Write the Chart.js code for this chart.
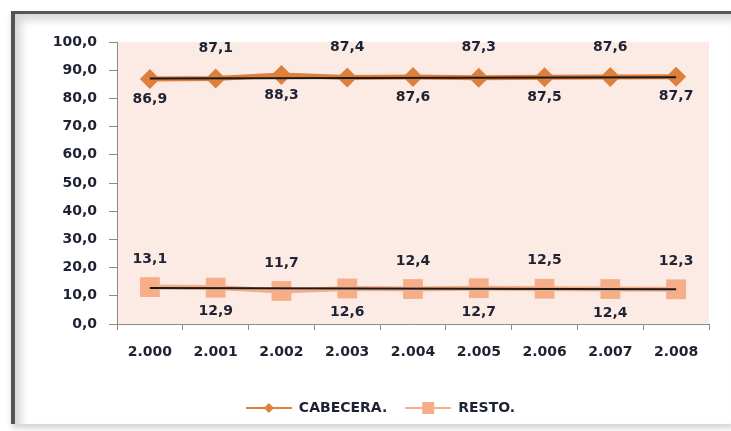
<!DOCTYPE html>
<html>
<head>
<meta charset="utf-8">
<script src="https://cdn.jsdelivr.net/npm/chart.js@4"></script>
<style>
  html, body { margin: 0; padding: 0; background: #fff; overflow: hidden; }
  body { width: 731px; height: 431px; position: relative; }
  .frame {
    position: absolute; left: 11px; top: 11px; width: 717px; height: 410px;
    border-left: 4px solid #555; border-top: 3px solid #555;
    box-shadow: inset 6px 6px 9px rgba(0,0,0,0.16), 1px 4px 6px rgba(0,0,0,0.18);
    background: #fff;
  }
  #wrap { position: absolute; left: 0; top: 0; width: 760px; height: 431px; }
</style>
</head>
<body>
<div class="frame"></div>
<div id="wrap"><canvas id="myChart" width="760" height="431"></canvas></div>
<script>
// data
const years = ['2.000', '2.001', '2.002', '2.003', '2.004', '2.005', '2.006', '2.007', '2.008'];
const cabecera = [86.9, 87.1, 88.3, 87.4, 87.6, 87.3, 87.5, 87.6, 87.7];
const resto = [13.1, 12.9, 11.7, 12.6, 12.4, 12.7, 12.5, 12.4, 12.3];
// thin black trend lines (only the ends)
const trendCabecera = [87.1, null, null, null, null, null, null, null, 87.5];
const trendResto = [12.8, null, null, null, null, null, null, null, 12.3];
const yTicks = [0, 10, 20, 30, 40, 50, 60, 70, 80, 90, 100];

const FONT = 'DejaVu Sans';
const FSIZE = 14;
const txtColor = '#1f2233';
const orange = '#de7f3c';
const salmon = '#f5ae88';

Chart.defaults.font.family = FONT;
Chart.defaults.font.size = FSIZE;
Chart.defaults.font.weight = 'bold';
Chart.defaults.color = txtColor;

const fmt = v => v.toFixed(1).replace('.', ',');

// little legend pictures: line with a marker in the middle
function legendIcon(color, shape) {
  const c = document.createElement('canvas');
  c.width = 46; c.height = 14;
  const x = c.getContext('2d');
  x.strokeStyle = color; x.lineWidth = 2;
  x.beginPath(); x.moveTo(0, 7); x.lineTo(46, 7); x.stroke();
  x.fillStyle = color;
  if (shape == 'diamond') {
    x.beginPath(); x.moveTo(23, 2); x.lineTo(28, 7); x.lineTo(23, 12); x.lineTo(18, 7); x.closePath(); x.fill();
  } else {
    x.fillRect(17, 1, 12, 12);
  }
  return c;
}

// peach plot background
const plotBg = {
  id: 'plotBg',
  beforeDraw(chart) {
    const a = chart.chartArea, ctx = chart.ctx;
    ctx.save();
    ctx.fillStyle = '#fcebe5';
    ctx.fillRect(a.left, a.top, a.right - a.left, a.bottom - a.top);
    ctx.restore();
  }
};

// the legend in the original sits a bit right of the middle
const legendShift = {
  id: 'legendShift',
  afterLayout(chart) {
    chart.legend.left += 26;
    chart.legend.right += 26;
  }
};

// value labels, alternating above / below
const valueLabels = {
  id: 'valueLabels',
  afterDatasetsDraw(chart) {
    const ctx = chart.ctx;
    ctx.save();
    ctx.font = 'bold ' + FSIZE + 'px ' + FONT;
    ctx.fillStyle = txtColor;
    ctx.textAlign = 'center';
    ctx.textBaseline = 'middle';
    chart.data.datasets.forEach((ds, i) => {
      if (ds.firstBelow === undefined) return;
      const meta = chart.getDatasetMeta(i);
      meta.data.forEach((pt, j) => {
        const below = (j % 2 == 0) == ds.firstBelow;
        const dy = below ? ds.belowOff : -ds.aboveOff;
        ctx.fillText(fmt(ds.data[j]), pt.x, pt.y + dy);
      });
    });
    ctx.restore();
  }
};

const data = {
  labels: years,
  datasets: [
    {
      label: 'CABECERA.',
      data: cabecera,
      borderColor: orange,
      backgroundColor: orange,
      borderWidth: 5,
      pointStyle: 'rectRot',
      pointRadius: 10,
      pointHoverRadius: 10,
      pointBorderWidth: 0,
      tension: 0,
      order: 3,
      firstBelow: true, belowOff: 20, aboveOff: 30,
      legendIcon: legendIcon(orange, 'diamond')
    },
    {
      label: 'RESTO.',
      data: resto,
      borderColor: salmon,
      backgroundColor: salmon,
      borderWidth: 5,
      pointStyle: 'rect',
      pointRadius: 14,
      pointHoverRadius: 14,
      pointBorderWidth: 0,
      tension: 0,
      order: 4,
      firstBelow: false, belowOff: 24, aboveOff: 28,
      legendIcon: legendIcon(salmon, 'square')
    },
    {
      label: 'trend1',
      data: trendCabecera,
      borderColor: '#1a1a1a',
      borderWidth: 2,
      pointRadius: 0,
      spanGaps: true,
      order: 1
    },
    {
      label: 'trend2',
      data: trendResto,
      borderColor: '#1a1a1a',
      borderWidth: 2,
      pointRadius: 0,
      spanGaps: true,
      order: 2
    }
  ]
};

const config = {
  type: 'line',
  data: data,
  options: {
    responsive: false,
    animation: false,
    events: [],
    layout: { padding: { left: 0, top: 42, right: 51, bottom: 6 } },
    scales: {
      x: {
        offset: true,
        grid: { offset: true, drawOnChartArea: false, tickLength: 6, color: '#8a8a8a' },
        border: { color: '#8a8a8a', width: 1 },
        ticks: { padding: 14, maxRotation: 0, autoSkip: false, color: txtColor },
        afterFit(scale) { scale.height = 59; }
      },
      y: {
        min: 0,
        max: 100,
        afterBuildTicks(scale) { scale.ticks = yTicks.map(v => ({ value: v })); },
        grid: { drawOnChartArea: false, tickLength: 8, color: '#8a8a8a' },
        border: { color: '#8a8a8a', width: 1 },
        ticks: { padding: 12, callback: v => fmt(v), color: txtColor },
        afterFit(scale) { scale.width = 117; }
      }
    },
    plugins: {
      tooltip: { enabled: false },
      legend: {
        position: 'bottom',
        labels: {
          usePointStyle: true,
          pointStyleWidth: 46,
          boxHeight: 14,
          padding: 18,
          font: { size: FSIZE, weight: 'bold', family: FONT },
          color: txtColor,
          filter: item => item.datasetIndex < 2,
          generateLabels(chart) {
            return chart.data.datasets.map((ds, i) => ({
              text: ds.label,
              datasetIndex: i,
              pointStyle: ds.legendIcon,
              fillStyle: ds.borderColor,
              strokeStyle: ds.borderColor,
              lineWidth: 0,
              hidden: false,
              fontColor: txtColor
            }));
          }
        }
      }
    }
  },
  plugins: [plotBg, legendShift, valueLabels]
};

const myChart = new Chart(document.getElementById('myChart').getContext('2d'), config);
</script>
</body>
</html>
